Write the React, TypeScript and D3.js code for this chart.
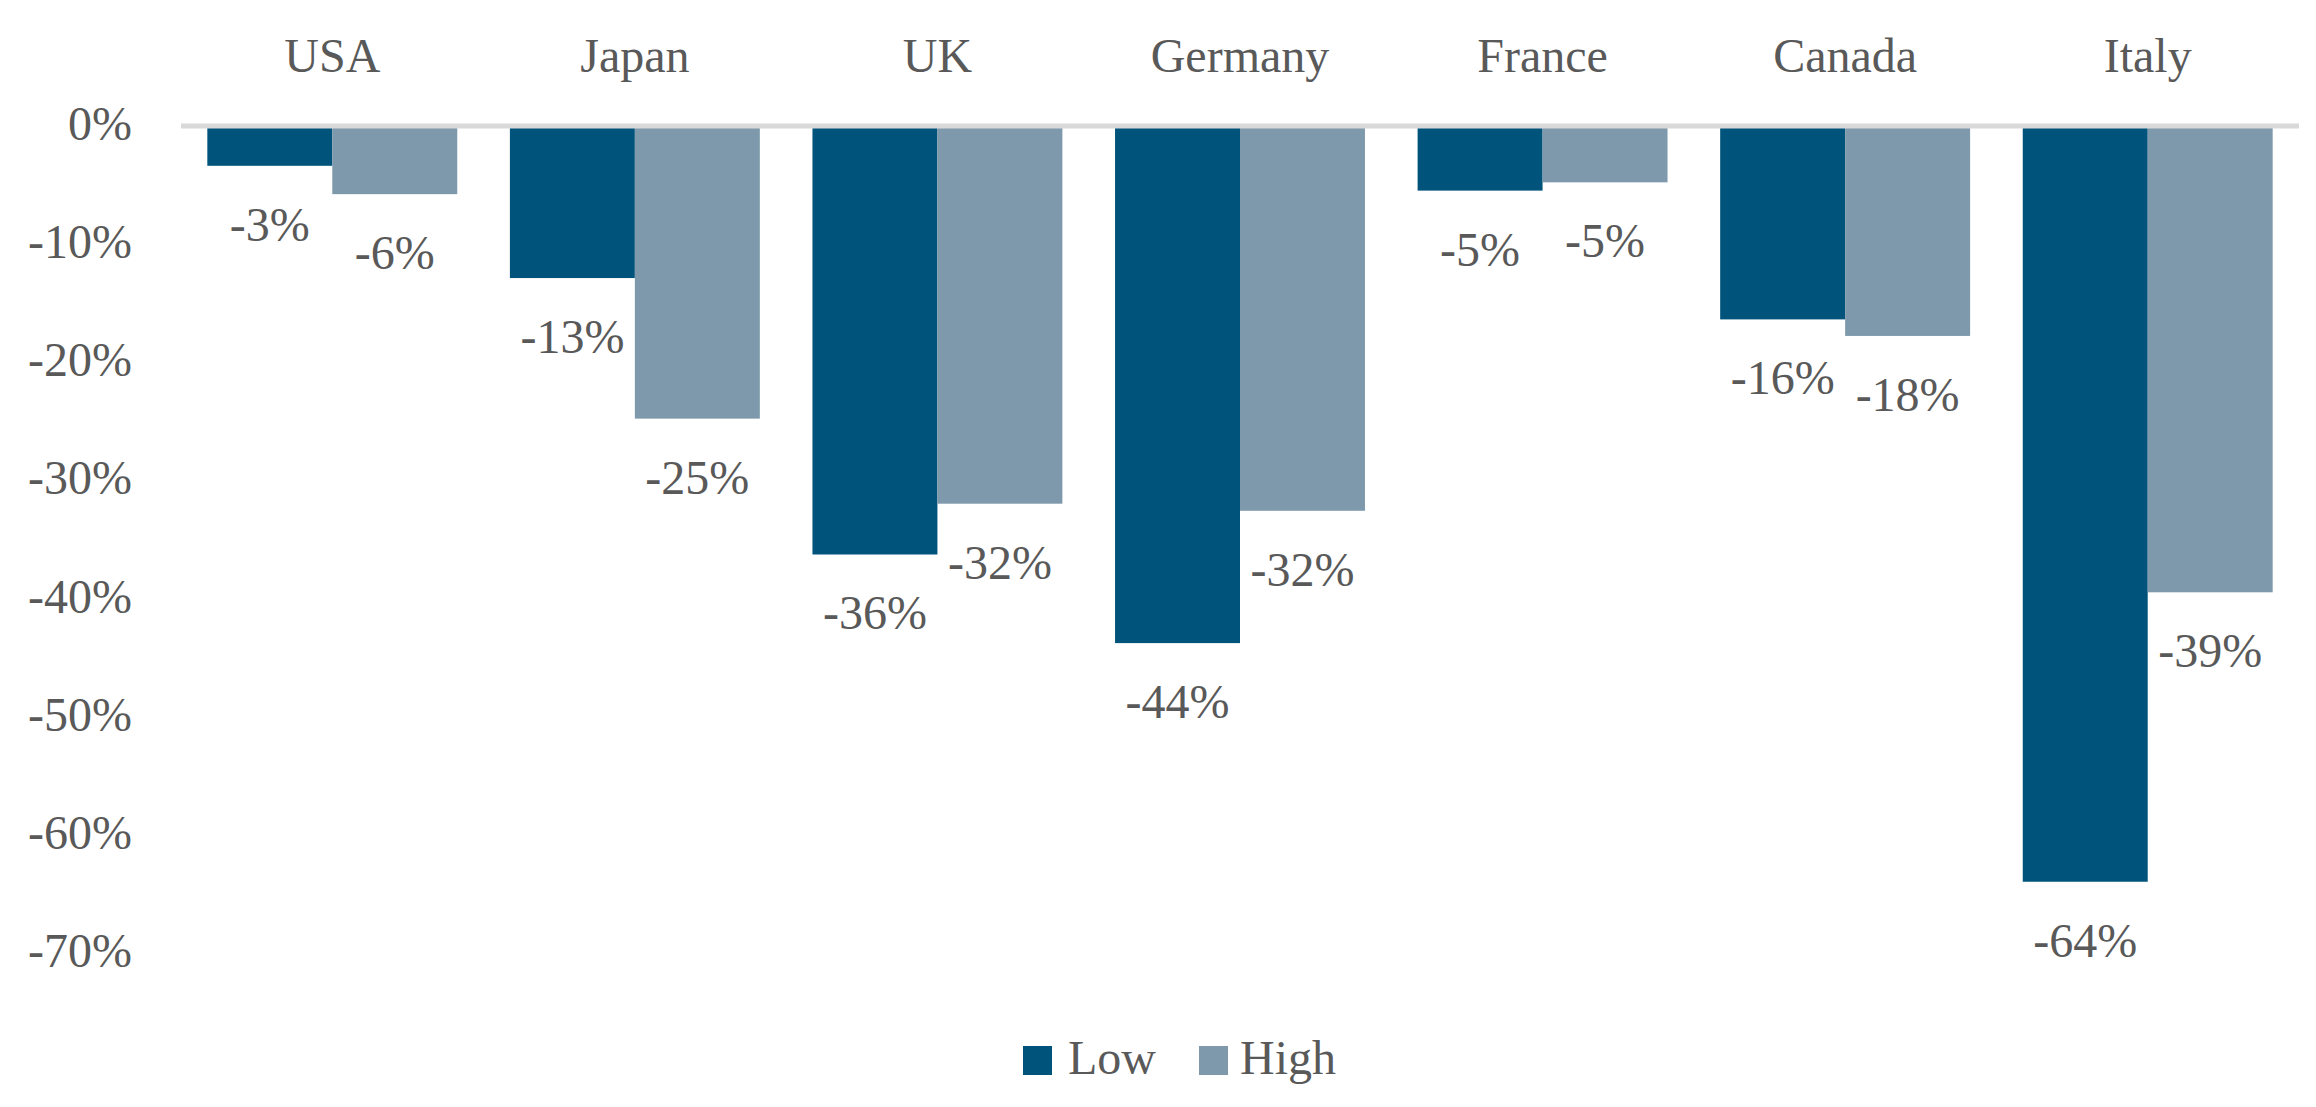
import * as d3 from "d3";

const categories = ["USA", "Japan", "UK", "Germany", "France", "Canada", "Italy"];
const seriesNames = ["Low", "High"];
const lowValues = [-3.2, -12.7, -36.1, -43.6, -5.3, -16.2, -63.8];
const highValues = [-5.6, -24.6, -31.8, -32.4, -4.6, -17.6, -39.3];
const yTicks = [0, -10, -20, -30, -40, -50, -60, -70];
const colors = ["#00537a", "#7e99ac"];

const width = 2316;
const height = 1107;
const margin = { top: 128, right: 17, bottom: 152, left: 181 };
const font = "'Palatino Linotype', 'Book Antiqua', Palatino, 'Liberation Serif', serif";
const textColor = "#595959";
const fontSize = 48;

export default function App() {
  const x = d3
    .scaleBand()
    .domain(categories)
    .range([margin.left, width - margin.right])
    .paddingInner(0.174)
    .paddingOuter(0.087);

  const xSeries = d3.scaleBand().domain(seriesNames).range([0, x.bandwidth()]);

  const y = d3
    .scaleLinear()
    .domain([-70, 0])
    .range([height - margin.bottom, margin.top]);

  const series = [lowValues, highValues];

  // legend layout
  const legendY = 1046;
  const sw = 29;

  return (
    <svg
      width={width}
      height={height}
      style={{ position: "absolute", left: 0, top: 0, background: "#fff" }}
      fontFamily={font}
    >
      {/* y tick labels */}
      {yTicks.map((t) => (
        <text
          key={t}
          x={132}
          y={y(t) + 12}
          textAnchor="end"
          fontSize={fontSize}
          fill={textColor}
        >
          {`${t}%`}
        </text>
      ))}

      {/* bars + data labels */}
      {series.map((vals, si) =>
        categories.map((c, i) => {
          const bx = (x(c) || 0) + (xSeries(seriesNames[si]) || 0);
          const v = vals[i];
          return (
            <g key={`${si}-${c}`}>
              <rect
                x={bx}
                y={y(0)}
                width={xSeries.bandwidth()}
                height={y(v) - y(0)}
                fill={colors[si]}
              />
              <text
                x={bx + xSeries.bandwidth() / 2}
                y={y(v) + 75}
                textAnchor="middle"
                fontSize={fontSize}
                fill={textColor}
              >
                {`${Math.round(v)}%`}
              </text>
            </g>
          );
        })
      )}

      {/* zero line */}
      <line
        x1={margin.left}
        x2={width - margin.right}
        y1={y(0) - 2}
        y2={y(0) - 2}
        stroke="#d9d9d9"
        strokeWidth={5}
      />

      {/* category labels on top */}
      {categories.map((c) => (
        <text
          key={c}
          x={(x(c) || 0) + x.bandwidth() / 2}
          y={72}
          textAnchor="middle"
          fontSize={fontSize}
          fill={textColor}
        >
          {c}
        </text>
      ))}

      {/* legend */}
      <g>
        <rect x={1023} y={legendY} width={sw} height={sw} fill={colors[0]} />
        <text x={1068} y={legendY + 28} fontSize={fontSize} fill={textColor}>
          {seriesNames[0]}
        </text>
        <rect x={1199} y={legendY} width={sw} height={sw} fill={colors[1]} />
        <text x={1240} y={legendY + 28} fontSize={fontSize} fill={textColor}>
          {seriesNames[1]}
        </text>
      </g>
    </svg>
  );
}
